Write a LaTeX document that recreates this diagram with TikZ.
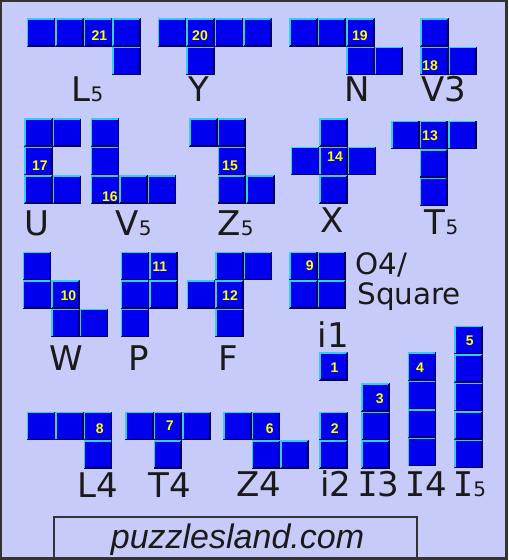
\documentclass[tikz,border=0pt]{standalone}
\usepackage{fontspec}
\setmainfont{DejaVu Sans}
\newfontfamily\numfont{Liberation Sans}
\newfontfamily\webfont{Liberation Sans}
\newfontfamily\serifI{DejaVu Sans Mono}
\usepackage{tikz}
\definecolor{bgc}{HTML}{C7CBFA}
\definecolor{blkc}{HTML}{0000EE}
\definecolor{hic}{HTML}{33CCFF}
\definecolor{loc}{HTML}{00005A}
\definecolor{numc}{HTML}{FFFF00}
\definecolor{inkc}{HTML}{1A1A1A}
\definecolor{framec}{HTML}{333333}
\tikzset{
  hiline/.style={hic,line width=0.8pt},
  loline/.style={loc,line width=0.8pt},
  num/.style={font=\numfont\bfseries\fontsize{7}{8}\selectfont,text=numc,inner sep=0pt},
  lbl/.style={font=\fontsize{17}{20}\selectfont,text=inkc,anchor=base,inner sep=0pt},
  sqlbl/.style={font=\fontsize{14.7}{17}\selectfont,text=inkc,anchor=base west,inner sep=0pt},
  web/.style={font=\webfont\itshape\fontsize{17}{20}\selectfont,text=inkc,anchor=base,inner sep=0pt}
}
\newcommand{\cs}{28.5}
\newcommand{\sfive}{{\fontsize{10}{12}\selectfont 5}}
\newcommand{\blk}[4]{%
  \fill[blkc] ({#1+#3*\cs},{#2+#4*\cs}) rectangle ++(\cs,\cs);
  \draw[hiline] ({#1+#3*\cs+0.8},{#2+(#4+1)*\cs-0.8}) |- ++({\cs-1.6},{-\cs+1.6});
  \draw[loline] ({#1+(#3+1)*\cs-0.8},{#2+#4*\cs+0.8}) |- ++({-\cs+1.6},{\cs-1.6});
}

\begin{document}
\begin{tikzpicture}[x=0.5pt,y=-0.5pt]
\useasboundingbox (0,0) rectangle (508,560);
\fill[white] (0,0) rectangle (508,560);
\filldraw[fill=bgc,draw=framec,line width=1.25pt] (1.2,1.2) rectangle (506.5,558.5);
% pentominoes and smaller pieces
\foreach \i/\j in {0/0,1/0,2/0,3/0,3/1} {\blk{26.7}{18.3}{\i}{\j}}
\foreach \i/\j in {0/0,1/0,2/0,3/0,1/1} {\blk{157.7}{18.3}{\i}{\j}}
\foreach \i/\j in {0/0,1/0,2/0,2/1,3/1} {\blk{289}{18.3}{\i}{\j}}
\foreach \i/\j in {0/0,0/1,1/1} {\blk{420}{18.3}{\i}{\j}}
\foreach \i/\j in {0/0,1/0,0/1,0/2,1/2} {\blk{24.3}{118.3}{\i}{\j}}
\foreach \i/\j in {0/0,0/1,0/2,1/2,2/2} {\blk{90.7}{118.3}{\i}{\j}}
\foreach \i/\j in {0/0,1/0,1/1,1/2,2/2} {\blk{189}{118.3}{\i}{\j}}
\foreach \i/\j in {1/0,0/1,1/1,2/1,1/2} {\blk{290.7}{118.3}{\i}{\j}}
\foreach \i/\j in {0/0,1/0,2/0,1/1,1/2} {\blk{391}{120.7}{\i}{\j}}
\foreach \i/\j in {0/0,0/1,1/1,1/2,2/2} {\blk{22.7}{251.7}{\i}{\j}}
\foreach \i/\j in {0/0,1/0,0/1,1/1,0/2} {\blk{120.7}{251.7}{\i}{\j}}
\foreach \i/\j in {1/0,2/0,0/1,1/1,1/2} {\blk{186.7}{251.7}{\i}{\j}}
\foreach \i/\j in {0/0,1/0,0/1,1/1} {\blk{289}{251.7}{\i}{\j}}
\blk{319.3}{352.3}{0}{0}
\foreach \j in {0,...,4} {\blk{454.3}{325.7}{0}{\j}}
\foreach \j in {0,...,3} {\blk{407.7}{352.3}{0}{\j}}
\foreach \j in {0,...,2} {\blk{361}{383.3}{0}{\j}}
\foreach \j in {0,1} {\blk{319.3}{411.7}{0}{\j}}
\foreach \i/\j in {0/0,1/0,2/0,2/1} {\blk{26.7}{411.7}{\i}{\j}}
\foreach \i/\j in {0/0,1/0,2/0,1/1} {\blk{125}{411.7}{\i}{\j}}
\foreach \i/\j in {0/0,1/0,1/1,2/1} {\blk{223.3}{411.7}{\i}{\j}}
% numbers
\node[num] (n21) at (99.5,35.8) {21};
\node[num] (n20) at (200,35.8) {20};
\node[num] (n19) at (359.8,35.8) {19};
\node[num] (n18) at (430,65.8) {18};
\node[num] (n17) at (40,165.8) {17};
\node[num] (n16) at (109.8,196.2) {16};
\node[num] (n15) at (230,165.8) {15};
\node[num] (n14) at (335,156.7) {14};
\node[num] (n13) at (430,135.8) {13};
\node[num] (n12) at (230,296) {12};
\node[num] (n11) at (159.7,266.7) {11};
\node[num] (n10) at (68.3,296) {10};
\node[num] (n9) at (309.7,266) {9};
\node[num] (n8) at (99.7,428.3) {8};
\node[num] (n7) at (169.7,425.8) {7};
\node[num] (n6) at (269.7,428.3) {6};
\node[num] (n5) at (469.7,341) {5};
\node[num] (n4) at (420,368) {4};
\node[num] (n3) at (379.7,398.3) {3};
\node[num] (n2) at (334.7,428.3) {2};
\node[num] (n1) at (334.5,368) {1};
% names
\node[lbl] (lL5) at (87.5,102) {L\sfive};
\node[lbl] (lY) at (199,102) {Y};
\node[lbl] (lN) at (357.5,102) {N};
\node[lbl] (lV3) at (444,102) {V3};
\node[lbl] (lU) at (36.7,235.5) {U};
\node[lbl] (lV5) at (133.7,236) {V\sfive};
\node[lbl] (lZ5) at (235.5,236) {Z\sfive};
\node[lbl] (lX) at (332,232.7) {X};
\node[lbl] (lT5) at (441.7,235) {T\sfive};
\node[lbl] (lW) at (66.3,370) {W};
\node[lbl] (lP) at (138.3,370) {P};
\node[lbl] (lF) at (228.7,370) {F};
\node[sqlbl] (lO4) at (355,275) {O4/};
\node[sqlbl] (lSq) at (357,304.5) {Square};
\node[lbl] (li1) at (333.3,347.3) {i1};
\node[lbl] (lL4) at (97.8,497.3) {L4};
\node[lbl] (lT4) at (170,497.3) {T4};
\node[lbl] (lZ4) at (258.7,496.7) {Z4};
\node[lbl] (li2) at (335.8,496.7) {i2};
\node[lbl] (lI3) at (378.3,496.7) {{\serifI I}3};
\node[lbl] (lI4) at (426,496.7) {{\serifI I}4};
\node[lbl] (lI5) at (469.5,496.7) {{\serifI I}\sfive};
% footer
\draw[framec,line width=1pt] (54,516.7) rectangle (416.7,558.5);
\node[web] (site) at (237.5,548.3) {puzzlesland.com};
\end{tikzpicture}
\end{document}
